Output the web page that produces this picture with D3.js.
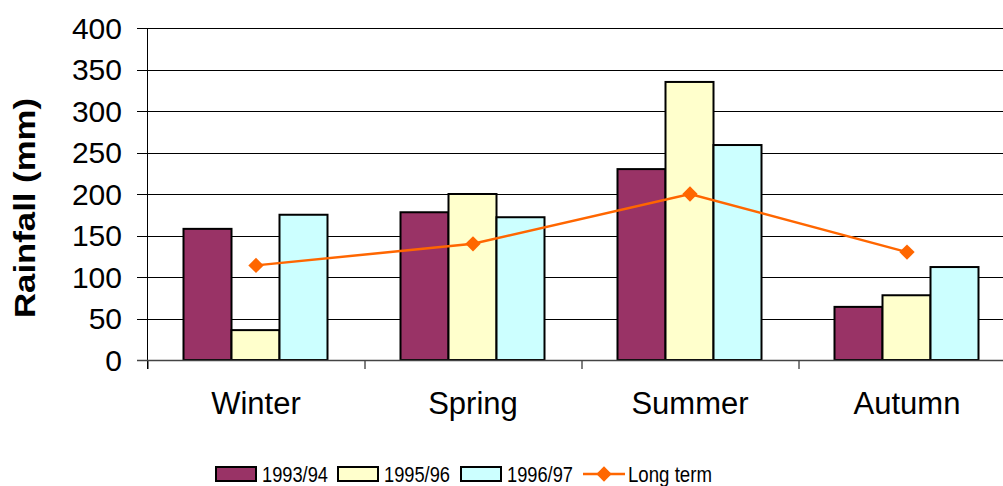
<!DOCTYPE html>
<html><head><meta charset="utf-8">
<script src="https://cdn.jsdelivr.net/npm/d3@7"></script>
<style>body{margin:0;background:#fff}svg{display:block}text{font-family:"Liberation Sans",Arial,sans-serif;fill:#000}</style>
</head><body><svg id="c" width="1003" height="486"></svg>
<script>
const categories = ["Winter","Spring","Summer","Autumn"];
const seriesNames = ["1993/94","1995/96","1996/97"];
const s1993 = [158,178,230,64];
const s1995 = [36,200,335,78];
const s1996 = [175,172,259,112];
const longTerm = [114,140,200,130];
const yTicks = [0,50,100,150,200,250,300,350,400];
const colors = ["#993366","#FFFFCC","#CCFFFF"];
const lineColor = "#FF6600";

(function(){
const svg = d3.select("#c");
const pLeft = 147.5, pRight = 1015.5, pTop = 28, pBottom = 360;
const x0 = d3.scaleBand().domain(categories).range([pLeft,pRight]).paddingInner(0).paddingOuter(0);
const x1 = d3.scaleBand().domain(seriesNames).range([36,36+144]);
const y = d3.scaleLinear().domain([0,400]).range([pBottom,pTop]);

svg.append("g").selectAll("line").data(yTicks).join("line")
  .attr("x1",137).attr("x2",1003).attr("y1",d=>Math.round(y(d))+0.5).attr("y2",d=>Math.round(y(d))+0.5)
  .attr("stroke","#000").attr("stroke-width",1).attr("shape-rendering","crispEdges");

svg.append("g").selectAll("text").data(yTicks).join("text")
  .attr("x",122).attr("y",d=>y(d)+10.5).attr("text-anchor","end")
  .style("font-size","30px").text(d=>d);

svg.append("line").attr("x1",147.5).attr("x2",147.5).attr("y1",pTop).attr("y2",369)
  .attr("stroke","#000").attr("stroke-width",1);
svg.append("g").selectAll("line").data(categories).join("line")
  .attr("x1",d=>x0(d)+0.5).attr("x2",d=>x0(d)+0.5).attr("y1",360).attr("y2",369)
  .attr("stroke","#000").attr("stroke-width",1);

const series = [s1993,s1995,s1996];
const bars = [];
categories.forEach((c,i)=>seriesNames.forEach((s,j)=>bars.push({c,s,j,v:series[j][i]})));
svg.append("g").selectAll("rect").data(bars).join("rect")
  .attr("x",d=>x0(d.c)+x1(d.s)).attr("width",x1.bandwidth())
  .attr("y",d=>y(d.v)).attr("height",d=>y(0)-y(d.v))
  .attr("fill",d=>colors[d.j]).attr("stroke","#000").attr("stroke-width",2);

svg.append("line").attr("x1",137).attr("x2",1003).attr("y1",360.5).attr("y2",360.5)
  .attr("stroke","#444").attr("stroke-width",1.5);

svg.append("g").selectAll("text").data(categories).join("text")
  .attr("x",d=>x0(d)+x0.bandwidth()/2).attr("y",414).attr("text-anchor","middle")
  .style("font-size","31px").text(d=>d);

const cx = d=>x0(d)+x0.bandwidth()/2;
const line = d3.line().x((d,i)=>cx(categories[i])).y(d=>y(d));
svg.append("path").datum(longTerm).attr("d",line).attr("fill","none")
  .attr("stroke",lineColor).attr("stroke-width",2.5);
const diamond = d3.symbol().type(d3.symbolDiamond2).size(150);
svg.append("g").selectAll("path").data(longTerm).join("path")
  .attr("d",diamond).attr("transform",(d,i)=>`translate(${cx(categories[i])},${y(d)})`)
  .attr("fill",lineColor);

svg.append("text").attr("transform","translate(35,208) rotate(-90)")
  .attr("text-anchor","middle").style("font-size","30px").style("font-weight","bold")
  .attr("textLength",220).attr("lengthAdjust","spacingAndGlyphs").text("Rainfall (mm)");

const leg = svg.append("g");
const swX = [216,338,461];
const txX = [262,384,507];
seriesNames.forEach((s,j)=>{
  leg.append("rect").attr("x",swX[j]).attr("y",467).attr("width",40).attr("height",14)
    .attr("fill",colors[j]).attr("stroke","#000").attr("stroke-width",2);
  leg.append("text").attr("x",txX[j]).attr("y",482).style("font-size","22px")
    .attr("textLength",66).attr("lengthAdjust","spacingAndGlyphs").text(s);
});
leg.append("line").attr("x1",583).attr("x2",625).attr("y1",474).attr("y2",474)
  .attr("stroke",lineColor).attr("stroke-width",2.5);
leg.append("path").attr("d",diamond).attr("transform","translate(604,474)").attr("fill",lineColor);
leg.append("text").attr("x",628).attr("y",482).style("font-size","22px")
  .attr("textLength",84).attr("lengthAdjust","spacingAndGlyphs").text("Long term");
})();
</script></body></html>
